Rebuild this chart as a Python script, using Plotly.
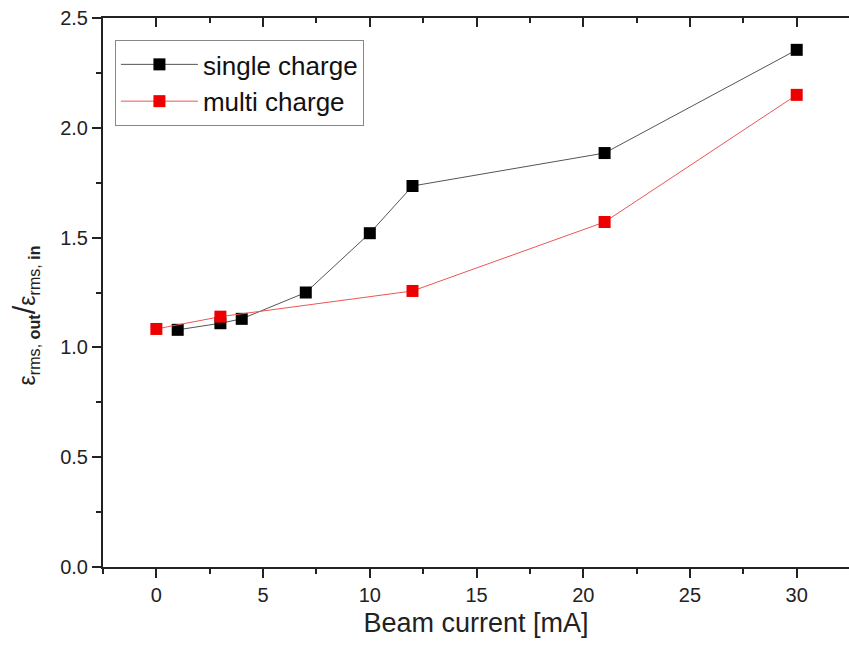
import plotly.graph_objects as go

single_x = [1, 3, 4, 7, 10, 12, 21, 30]
single_y = [1.08, 1.11, 1.13, 1.25, 1.52, 1.735, 1.885, 2.355]
multi_x = [0, 3, 12, 21, 30]
multi_y = [1.084, 1.14, 1.257, 1.571, 2.15]
x_ticks = [0, 5, 10, 15, 20, 25, 30]
y_ticks = [0, 0.5, 1.0, 1.5, 2.0, 2.5]

FONT = "Liberation Sans, Arial, sans-serif"
INK = "#222222"

fig = go.Figure()
fig.add_trace(go.Scatter(x=single_x, y=single_y, mode="lines+markers", name="single charge",
                         line=dict(color="#555555", width=1),
                         marker=dict(symbol="square", size=12, color="black")))
fig.add_trace(go.Scatter(x=multi_x, y=multi_y, mode="lines+markers", name="multi charge",
                         line=dict(color="#ee5555", width=1),
                         marker=dict(symbol="square", size=12, color="#ee0000")))
# invisible trace to hold mirror axis
fig.add_trace(go.Scatter(x=[0], y=[0], xaxis="x2", yaxis="y", mode="markers",
                         marker=dict(opacity=0), showlegend=False, hoverinfo="skip"))

fig.update_layout(
    width=849, height=653,
    margin=dict(l=103, r=0, t=18, b=86),
    plot_bgcolor="white", paper_bgcolor="white",
    font=dict(family=FONT, color=INK, size=20),
    xaxis=dict(range=[-2.5, 32.45], tickmode="array", tickvals=x_ticks,
               ticktext=[str(v) for v in x_ticks],
               tickfont=dict(family=FONT, size=20, color=INK),
               ticks="outside", ticklen=9, tickwidth=2, tickcolor=INK,
               showline=True, linewidth=2, linecolor=INK, showgrid=False, zeroline=False,
               minor=dict(ticks="outside", ticklen=5, tickwidth=1.5, dtick=2.5, tick0=0, tickcolor=INK),
               title=dict(text="Beam current [mA]", font=dict(family=FONT, size=27, color=INK), standoff=8)),
    yaxis=dict(range=[0, 2.5], tickmode="array", tickvals=y_ticks,
               ticktext=[f"{v:.1f}" for v in y_ticks],
               tickfont=dict(family=FONT, size=20, color=INK),
               ticks="outside", ticklen=9, tickwidth=2, tickcolor=INK,
               showline=True, linewidth=2, linecolor=INK, showgrid=False, zeroline=False,
               minor=dict(ticks="outside", ticklen=5, tickwidth=1.5, dtick=0.25, tick0=0, tickcolor=INK)),
    xaxis2=dict(overlaying="x", side="top", matches="x", showticklabels=False,
                tickmode="array", tickvals=x_ticks, ticks="inside", ticklen=9, tickwidth=2,
                tickcolor=INK, showline=True, linewidth=2, linecolor=INK,
                minor=dict(ticks="inside", ticklen=5, tickwidth=1.5, dtick=2.5, tick0=0, tickcolor=INK),
                showgrid=False, zeroline=False),
    legend=dict(x=0.016, y=0.96, xanchor="left", yanchor="top",
                bordercolor="#888888", borderwidth=1, bgcolor="white",
                font=dict(family=FONT, size=26, color="#111111"),
                itemwidth=77, tracegroupgap=0),
    showlegend=True,
    annotations=[dict(
        text="ε<sub>rms, <b>out</b></sub><span style='font-size:31px'>/</span>ε<sub>rms, <b>in</b></sub>",
        textangle=-90, xref="paper", yref="paper", x=-0.104, y=0.459,
        xanchor="center", yanchor="middle", showarrow=False,
        font=dict(family=FONT, size=23, color=INK))],
)

fig.write_html("out.html")
